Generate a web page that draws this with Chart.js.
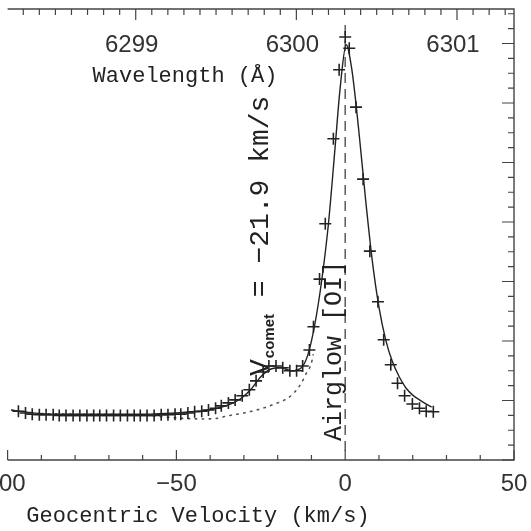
<!DOCTYPE html>
<html>
<head>
<meta charset="utf-8">
<script src="https://cdn.jsdelivr.net/npm/chart.js@4"></script>
<style>
  html, body { margin: 0; padding: 0; background: #fff; }
  #wrap { position: relative; width: 531px; height: 531px; overflow: hidden; }
</style>
</head>
<body>
<div id="wrap"><canvas id="spec" width="531" height="531"></canvas></div>
<script>
// observed spectrum (+ markers), km/s vs relative intensity
const obsVel = [-96.8, -94.7, -92.7, -90.6, -88.6, -86.5, -84.7, -82.7, -80.6, -78.6,
  -76.5, -74.5, -72.7, -70.7, -68.6, -66.6, -64.5, -62.5, -60.7, -58.7,
  -56.6, -54.5, -52.5, -50.4, -48.7, -46.6, -44.6, -42.5, -40.5, -38.4,
  -36.7, -34.6, -32.6, -30.5, -28.4, -26.4, -24.3, -22.6, -20.5, -18.5,
  -16.4, -14.4, -12.6, -10.6, -9.4, -7.6, -5.9, -3.5, -1.8, 0.0,
  1.2, 3.2, 5.3, 7.3, 9.7, 11.4, 13.5, 15.5, 17.6, 19.9,
  22.0, 24.0, 26.1];
const obsFlux = [0.82, 0.79, 0.77, 0.76, 0.76, 0.76, 0.75, 0.75, 0.75, 0.75,
  0.75, 0.75, 0.75, 0.75, 0.75, 0.75, 0.75, 0.75, 0.75, 0.75,
  0.75, 0.76, 0.76, 0.77, 0.77, 0.79, 0.81, 0.82, 0.84, 0.87,
  0.91, 0.96, 1.01, 1.08, 1.18, 1.33, 1.48, 1.58, 1.58, 1.55,
  1.50, 1.50, 1.58, 1.85, 2.24, 3.04, 3.97, 5.40, 6.56, 7.11,
  6.92, 5.93, 4.72, 3.51, 2.66, 2.02, 1.60, 1.29, 1.08, 0.94,
  0.87, 0.82, 0.81];

// fitted model (solid)
const fitVel = [-99, -95, -90, -85, -80, -75, -70, -65, -60, -55, -50, -46, -42, -38, -34,
  -31, -28, -25, -22, -19, -16, -13, -11, -9, -7, -5, -3, -1.5, 0.3, 2,
  4, 6, 8, 10, 12, 14, 16, 18, 20, 22, 24, 25.6];
const fitFlux = [0.84, 0.81, 0.78, 0.77, 0.77, 0.77, 0.77, 0.77, 0.77, 0.78, 0.79, 0.81, 0.83, 0.87, 0.94,
  1.03, 1.18, 1.40, 1.53, 1.55, 1.50, 1.55, 1.78, 2.28, 3.00, 3.95, 5.25, 6.25, 6.98, 6.55,
  5.55, 4.40, 3.36, 2.57, 2.02, 1.65, 1.40, 1.21, 1.09, 1.01, 0.94, 0.89];

// airglow-only component (dotted)
const glowVel = [-90, -80, -62, -55, -48, -42, -38, -35, -30, -25, -20, -17, -15, -13, -11.5, -10, -9.5];
const glowFlux = [0.78, 0.77, 0.76, 0.73, 0.70, 0.69, 0.70, 0.74, 0.79, 0.86, 0.96, 1.04, 1.14, 1.29, 1.46, 1.63, 1.77];

// axes
const velMin = -100, velMax = 50;
const fluxMin = 0, fluxMax = 7.58;
const lambda0 = 6300.304;           // [OI] rest wavelength, A
const cLight = 299792.458;
const bottomTicks = [-100, -90, -80, -70, -60, -50, -40, -30, -20, -10, 0, 10, 20, 30, 40, 50];
const bottomMajor = [-100, -50, 0, 50];
const bottomLabels = ['\u2212100', '\u221250', '0', '50'];
const topMajor = [6298, 6299, 6300, 6301];
const topLabels = ['6298', '6299', '6300', '6301'];

const monoFont = '"Liberation Mono", "Courier New", monospace';
const sansFont = '"Liberation Sans", Arial, sans-serif';
const ink = '#222';

const frame = {
  id: 'frame',
  afterDraw(chart) {
    const ctx = chart.ctx;
    const a = chart.chartArea;
    const x = chart.scales.x, y = chart.scales.y, xt = chart.scales.xTop;
    ctx.save();
    ctx.strokeStyle = '#444';
    ctx.lineWidth = 1.4;
    ctx.beginPath();
    ctx.moveTo(a.left, a.top); ctx.lineTo(a.right, a.top);
    ctx.lineTo(a.right, a.bottom); ctx.lineTo(a.left, a.bottom);
    ctx.stroke();

    // bottom ticks
    ctx.lineWidth = 1.2;
    ctx.beginPath();
    bottomTicks.forEach(v => {
      const px = x.getPixelForValue(v);
      const len = bottomMajor.includes(v) ? 10 : 5;
      ctx.moveTo(px, a.bottom); ctx.lineTo(px, a.bottom - len);
    });
    // top ticks, every 0.1 A
    for (let i = 62970; i <= 63020; i++) {
      const lam = i / 10;
      if (lam < xt.min || lam > xt.max) continue;
      const px = xt.getPixelForValue(lam);
      const len = i % 10 === 0 ? 11 : 6;
      ctx.moveTo(px, a.top); ctx.lineTo(px, a.top + len);
    }
    // right ticks
    for (let i = 0; i <= 30; i++) {
      const py = y.getPixelForValue(i * 0.25);
      const len = i % 4 === 0 ? 12 : 6;
      ctx.moveTo(a.right, py); ctx.lineTo(a.right - len, py);
    }
    ctx.stroke();

    // tick labels
    ctx.fillStyle = '#333';
    ctx.font = '24px ' + sansFont;
    ctx.textAlign = 'center';
    ctx.textBaseline = 'middle';
    bottomMajor.forEach((v, i) => {
      ctx.fillText(bottomLabels[i], x.getPixelForValue(v) - (v === -100 ? 9 : 0), a.bottom + 24);
    });
    topMajor.forEach((l, i) => {
      ctx.fillText(topLabels[i], xt.getPixelForValue(l) - 4, a.top + 36);
    });

    // axis titles
    ctx.fillStyle = '#222';
    ctx.font = '22px ' + monoFont;
    ctx.fillText('Wavelength (\u00c5)', 185, 76);
    ctx.fillText('Geocentric Velocity (km/s)', 198, 516);

    // rotated notes
    ctx.textAlign = 'left';
    ctx.textBaseline = 'alphabetic';
    ctx.save();
    ctx.translate(268, 376);
    ctx.rotate(-Math.PI / 2);
    ctx.font = '28px ' + monoFont;
    ctx.fillText('V', 0, 0);
    let off = ctx.measureText('V').width;
    ctx.font = 'bold 15px ' + sansFont;
    ctx.fillText('comet', off + 1, 6);
    off += ctx.measureText('comet').width + 1;
    ctx.font = '28px ' + monoFont;
    ctx.fillText(' = \u221221.9 km/s', off, 0);
    ctx.restore();

    ctx.save();
    ctx.translate(341, 441);
    ctx.rotate(-Math.PI / 2);
    ctx.font = '25px ' + monoFont;
    ctx.fillText('Airglow [OI]', 0, 0);
    ctx.restore();

    ctx.restore();
  }
};

new Chart(document.getElementById('spec'), {
  type: 'scatter',
  data: {
    datasets: [
      {
        data: obsVel.map((v, i) => ({ x: v, y: obsFlux[i] })),
        pointStyle: 'cross',
        pointRadius: 6,
        borderColor: ink,
        borderWidth: 1.6,
        showLine: false
      },
      {
        data: fitVel.map((v, i) => ({ x: v, y: fitFlux[i] })),
        showLine: true,
        pointRadius: 0,
        borderColor: ink,
        borderWidth: 1.4,
        cubicInterpolationMode: 'monotone'
      },
      {
        data: glowVel.map((v, i) => ({ x: v, y: glowFlux[i] })),
        showLine: true,
        pointRadius: 0,
        borderColor: '#555',
        borderWidth: 1.6,
        borderDash: [1.5, 5.5],
        borderCapStyle: 'round',
        cubicInterpolationMode: 'monotone'
      },
      {
        data: [{ x: 0, y: 0.15 }, { x: 0, y: 7.36 }],
        showLine: true,
        pointRadius: 0,
        borderColor: '#666',
        borderWidth: 1.6,
        borderDash: [10, 6]
      }
    ]
  },
  options: {
    responsive: false,
    animation: false,
    layout: { padding: { left: 2, right: 17, top: 9, bottom: 71 } },
    plugins: { legend: { display: false }, tooltip: { enabled: false } },
    scales: {
      x: { type: 'linear', min: velMin, max: velMax, display: false },
      xTop: {
        type: 'linear', axis: 'x', display: false,
        min: lambda0 * (1 + velMin / cLight),
        max: lambda0 * (1 + velMax / cLight)
      },
      y: { type: 'linear', min: fluxMin, max: fluxMax, display: false }
    }
  },
  plugins: [frame]
});
</script>
</body>
</html>
